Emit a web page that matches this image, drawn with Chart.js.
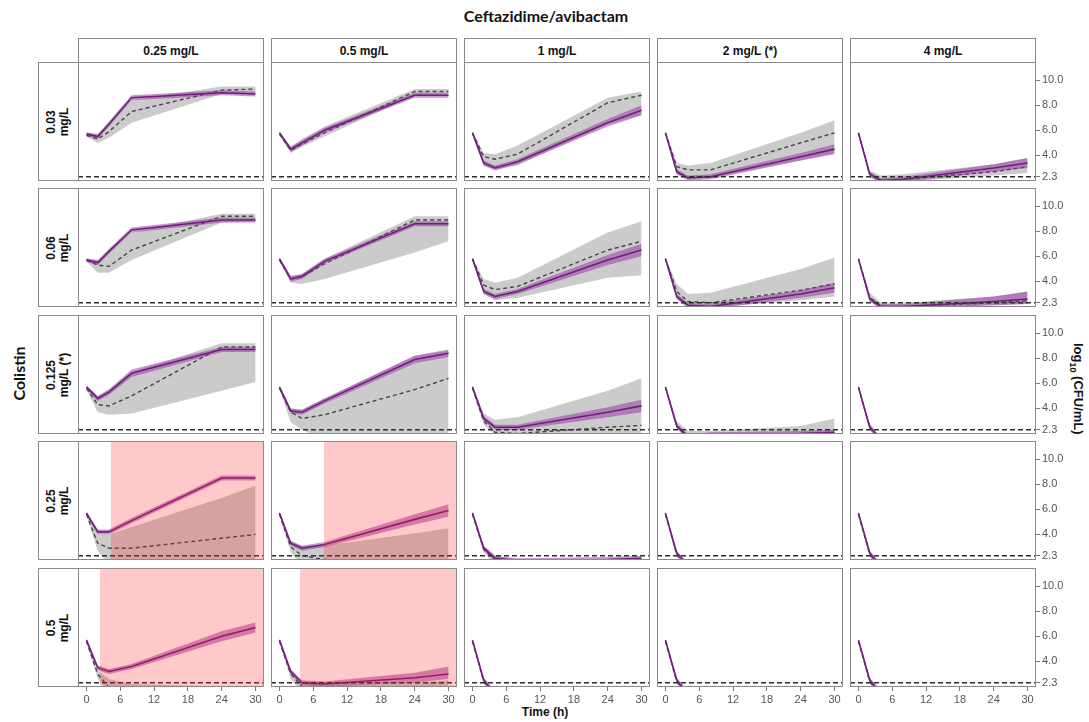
<!DOCTYPE html>
<html>
<head>
<meta charset="utf-8">
<script src="https://cdn.jsdelivr.net/npm/chart.js@4.4.0/dist/chart.umd.min.js"></script>
<style>
  body { margin: 0; background: #fff; width: 1089px; height: 722px; position: relative; overflow: hidden; font-family: "Liberation Sans", Arial, sans-serif; }
  canvas { position: absolute; }
  .strip { position: absolute; box-sizing: border-box; border: 1px solid #8a8a8a; background: #fff; display: flex; align-items: center; justify-content: center; font-weight: bold; font-size: 12px; color: #111; }
  .rot { transform: rotate(-90deg); text-align: center; line-height: 13px; white-space: nowrap; }
  .lbl { position: absolute; font-weight: bold; white-space: nowrap; color: #111; }
</style>
</head>
<body>
<div class="lbl" id="title" style="left:396px;top:6px;width:300px;text-align:center;font-family:Lato,sans-serif;font-size:16px;">Ceftazidime/avibactam</div>
<div class="lbl" style="left:-32px;top:364px;width:100px;text-align:center;font-family:Lato,sans-serif;font-size:16px;transform:rotate(-90deg);">Colistin</div>
<div class="lbl" style="left:1007px;top:380px;width:140px;text-align:center;font-size:13px;transform:rotate(90deg);">log<sub style="font-size:9px">10</sub> (CFU/mL)</div>
<div class="lbl" style="left:495px;top:705px;width:100px;text-align:center;font-size:12px;">Time (h)</div>
<script>
// sampling times (h)
const times = [0, 2, 4, 8, 24, 30];
const cazLabels = ['0.25 mg/L', '0.5 mg/L', '1 mg/L', '2 mg/L (*)', '4 mg/L'];
const colistinLabels = [['0.03', 'mg/L'], ['0.06', 'mg/L'], ['0.125', 'mg/L (*)'], ['0.25', 'mg/L'], ['0.5', 'mg/L']];
const xTicks = [0, 6, 12, 18, 24, 30];
const yTicks = [2.3, 4, 6, 8, 10];
const loq = 2.3;

// model prediction (purple): median, lower, upper  [colistin row][caz col][time]
const predMedian = [
  [[5.7,5.5,6.5,8.6,9.0,8.9],[5.8,4.5,5.0,6.0,8.8,8.8],[5.8,3.4,3.0,3.5,6.6,7.6],[5.8,2.7,2.2,2.3,3.9,4.5],[5.8,2.5,2.0,2.1,3.0,3.4]],
  [[5.7,5.5,6.4,8.1,8.9,8.9],[5.8,4.2,4.4,5.6,8.6,8.6],[5.8,3.2,2.8,3.2,5.7,6.5],[5.8,2.8,2.1,2.0,3.0,3.5],[5.8,2.6,2.0,2.0,2.4,2.6]],
  [[5.7,4.8,5.3,6.8,8.7,8.7],[5.7,3.8,3.7,4.6,7.9,8.4],[5.7,3.2,2.5,2.5,3.7,4.2],[5.7,2.6,1.7,1.9,2.0,2.1],[5.7,2.5,1.5,1.5,1.5,1.5]],
  [[5.7,4.2,4.2,5.1,8.5,8.5],[5.7,3.3,2.9,3.2,5.2,5.9],[5.7,2.9,2.1,1.9,2.0,2.1],[5.7,2.5,1.5,1.5,1.5,1.5],[5.7,2.5,1.4,1.4,1.4,1.4]],
  [[5.7,3.5,3.2,3.6,6.0,6.7],[5.7,3.2,2.3,2.2,2.7,3.0],[5.7,2.5,1.4,1.4,1.4,1.4],[5.7,2.5,1.4,1.4,1.4,1.4],[5.7,2.5,1.4,1.4,1.4,1.4]]
];
const predLow = [
  [[5.55,5.3,6.3,8.4,8.8,8.7],[5.65,4.3,4.8,5.8,8.6,8.6],[5.65,3.2,2.8,3.3,6.3,7.2],[5.65,2.5,2.0,2.1,3.6,4.1],[5.65,2.3,1.8,1.9,2.7,3.0]],
  [[5.55,5.3,6.2,7.9,8.7,8.7],[5.65,4.0,4.2,5.4,8.4,8.4],[5.65,3.0,2.6,3.0,5.3,6.0],[5.65,2.6,1.9,1.8,2.7,3.1],[5.65,2.4,1.8,1.8,2.1,2.2]],
  [[5.55,4.6,5.1,6.5,8.5,8.5],[5.55,3.6,3.5,4.4,7.6,8.1],[5.55,3.0,2.3,2.3,3.3,3.7],[5.55,2.4,1.5,1.7,1.8,1.9],[5.55,2.3,1.3,1.3,1.3,1.3]],
  [[5.55,4.0,4.0,4.9,8.3,8.3],[5.55,3.1,2.7,3.0,4.8,5.4],[5.55,2.7,1.9,1.7,1.8,1.9],[5.55,2.3,1.3,1.3,1.3,1.3],[5.55,2.3,1.2,1.2,1.2,1.2]],
  [[5.55,3.3,3.0,3.4,5.6,6.3],[5.55,3.0,2.1,2.0,2.3,2.6],[5.55,2.3,1.2,1.2,1.2,1.2],[5.55,2.3,1.2,1.2,1.2,1.2],[5.55,2.3,1.2,1.2,1.2,1.2]]
];
const predHigh = [
  [[5.85,5.7,6.7,8.8,9.2,9.1],[5.95,4.7,5.2,6.2,9.0,9.0],[5.95,3.6,3.2,3.7,6.9,8.0],[5.95,2.9,2.4,2.5,4.2,4.9],[5.95,2.7,2.2,2.3,3.3,3.8]],
  [[5.85,5.7,6.6,8.3,9.1,9.1],[5.95,4.4,4.6,5.8,8.8,8.8],[5.95,3.4,3.0,3.4,6.1,7.0],[5.95,3.0,2.3,2.2,3.3,3.9],[5.95,2.8,2.2,2.2,2.8,3.2]],
  [[5.85,5.0,5.5,7.1,8.9,8.9],[5.85,4.0,3.9,4.8,8.2,8.7],[5.85,3.4,2.7,2.7,4.1,4.7],[5.85,2.8,1.9,2.1,2.2,2.3],[5.85,2.7,1.7,1.7,1.7,1.7]],
  [[5.85,4.4,4.4,5.3,8.7,8.7],[5.85,3.5,3.1,3.4,5.6,6.4],[5.85,3.1,2.3,2.1,2.2,2.3],[5.85,2.7,1.7,1.7,1.7,1.7],[5.85,2.7,1.6,1.6,1.6,1.6]],
  [[5.85,3.7,3.4,3.8,6.4,7.1],[5.85,3.4,2.5,2.4,3.1,3.6],[5.85,2.7,1.6,1.6,1.6,1.6],[5.85,2.7,1.6,1.6,1.6,1.6],[5.85,2.7,1.6,1.6,1.6,1.6]]
];

// observed (grey): median (dashed), lower, upper
const obsMedian = [
  [[5.6,5.3,5.9,7.5,9.2,9.3],[5.7,4.4,4.9,5.8,9.1,9.1],[5.8,3.9,3.7,4.1,8.2,8.8],[5.8,3.1,2.85,2.85,5.0,5.8],[5.8,2.5,2.0,2.1,2.7,3.1]],
  [[5.7,5.3,5.2,6.5,9.2,9.2],[5.7,4.2,4.4,5.4,8.9,8.9],[5.8,3.7,3.35,3.6,6.5,7.2],[5.8,3.2,2.4,2.3,3.3,3.8],[5.8,2.7,2.0,2.0,2.3,2.45]],
  [[5.6,4.3,4.2,5.0,8.9,8.9],[5.6,3.7,3.2,3.5,5.5,6.4],[5.6,3.0,2.1,2.0,2.5,2.65],[5.7,2.6,1.8,1.9,2.0,2.0],[5.7,2.5,1.5,1.5,1.5,1.5]],
  [[5.6,3.3,2.9,2.9,3.7,4.0],[5.6,3.0,2.3,2.0,1.8,1.8],[5.6,2.8,2.0,1.8,1.8,1.8],[5.6,2.4,1.5,1.5,1.5,1.5],[5.6,2.4,1.5,1.5,1.5,1.5]],
  [[5.6,3.0,1.9,1.8,1.8,1.8],[5.6,3.0,2.0,1.8,1.8,1.8],[5.6,2.4,1.4,1.4,1.4,1.4],[5.6,2.4,1.4,1.4,1.4,1.4],[5.6,2.4,1.4,1.4,1.4,1.4]]
];
const obsLow = [
  [[5.5,5.0,5.4,6.6,8.9,9.0],[5.6,4.2,4.7,5.5,8.8,8.9],[5.6,3.2,2.9,3.2,6.5,7.2],[5.6,2.5,2.2,2.2,3.6,4.2],[5.6,2.2,1.9,1.9,2.4,2.6]],
  [[5.6,4.7,4.7,5.7,8.7,8.8],[5.6,3.9,3.8,4.2,6.3,7.2],[5.6,3.0,2.5,2.7,4.3,4.5],[5.6,2.6,1.9,1.9,2.5,2.8],[5.6,2.4,1.8,1.8,2.1,2.2]],
  [[5.5,3.7,3.5,3.6,5.4,6.1],[5.5,2.9,2.3,1.5,1.5,1.5],[5.5,2.7,1.9,1.8,1.9,2.0],[5.5,2.4,1.6,1.7,1.7,1.7],[5.5,2.3,1.3,1.3,1.3,1.3]],
  [[5.5,2.7,1.5,1.5,1.5,1.5],[5.5,2.6,1.5,1.5,1.5,1.5],[5.5,2.6,1.5,1.5,1.5,1.5],[5.5,2.2,1.3,1.3,1.3,1.3],[5.5,2.2,1.3,1.3,1.3,1.3]],
  [[5.5,2.6,1.5,1.5,1.5,1.5],[5.5,2.6,1.5,1.5,1.5,1.5],[5.5,2.2,1.2,1.2,1.2,1.2],[5.5,2.2,1.2,1.2,1.2,1.2],[5.5,2.2,1.2,1.2,1.2,1.2]]
];
const obsHigh = [
  [[5.8,5.6,6.6,8.4,9.5,9.5],[5.9,4.7,5.3,6.3,9.3,9.3],[5.9,4.2,4.1,4.8,8.6,9.1],[5.9,3.4,3.2,3.4,5.8,6.8],[5.9,2.8,2.4,2.5,3.3,3.8]],
  [[5.8,5.6,6.3,7.9,9.4,9.4],[5.9,4.5,4.6,5.8,9.2,9.2],[5.9,4.2,3.9,4.3,7.9,8.8],[5.9,3.8,3.0,3.1,5.0,5.9],[5.9,3.1,2.3,2.3,2.8,3.2]],
  [[5.8,5.0,5.5,6.9,9.2,9.2],[5.8,4.0,3.9,4.8,8.2,8.6],[5.8,3.6,3.1,3.3,5.4,6.4],[5.8,3.0,2.2,2.2,2.6,3.2],[5.8,2.8,1.7,1.7,1.7,1.7]],
  [[5.8,4.0,4.0,4.6,6.9,7.9],[5.8,3.4,3.1,3.1,4.1,4.5],[5.8,3.1,2.3,2.0,2.0,2.1],[5.8,2.7,1.7,1.7,1.7,1.7],[5.8,2.7,1.7,1.7,1.7,1.7]],
  [[5.8,3.3,2.6,2.2,2.0,2.0],[5.8,3.3,2.3,2.1,2.3,2.5],[5.8,2.7,1.7,1.7,1.7,1.7],[5.8,2.7,1.7,1.7,1.7,1.7],[5.8,2.7,1.7,1.7,1.7,1.7]]
];

// time (h) from which the red shaded region starts; null = none
const redStart = [
  [null, null, null, null, null],
  [null, null, null, null, null],
  [null, null, null, null, null],
  [4.3, 7.9, null, null, null],
  [2.4, 3.6, null, null, null]
];

// layout
const colLeft = [78, 271, 464, 657, 850];
const rowTop = [62, 188, 315, 441, 568];
const panelW = 186, panelH = 119;
const xMin = -1.5, xMax = 31.5, yMin = 1.96, yMax = 11.45;

Chart.defaults.font.family = '"Liberation Sans", Arial, sans-serif';

const panelBorder = {
  id: 'panelBorder',
  afterDraw(chart) {
    const a = chart.chartArea;
    const ctx = chart.ctx;
    ctx.save();
    ctx.strokeStyle = '#8a8a8a';
    ctx.lineWidth = 1;
    ctx.strokeRect(a.left + 0.5, a.top + 0.5, a.right - a.left - 1, a.bottom - a.top - 1);
    ctx.restore();
  }
};

const pts = arr => times.map((t, i) => ({ x: t, y: arr[i] }));
const none = 'rgba(0,0,0,0)';

// strips
cazLabels.forEach((txt, c) => {
  const d = document.createElement('div');
  d.className = 'strip';
  d.style.cssText = `left:${colLeft[c]}px;top:38px;width:${panelW}px;height:25px;`;
  d.textContent = txt;
  document.body.appendChild(d);
});
colistinLabels.forEach((lines, r) => {
  const d = document.createElement('div');
  d.className = 'strip';
  d.style.cssText = `left:38px;top:${rowTop[r]}px;width:41px;height:${panelH}px;`;
  d.innerHTML = `<div class="rot">${lines[0]}<br>${lines[1]}</div>`;
  document.body.appendChild(d);
});

for (let r = 0; r < 5; r++) {
  for (let c = 0; c < 5; c++) {
    const showY = c === 4, showX = r === 4;
    const canvas = document.createElement('canvas');
    canvas.width = panelW + (showY ? 50 : 0);
    canvas.height = panelH + (showX ? 22 : 0);
    canvas.style.left = colLeft[c] + 'px';
    canvas.style.top = rowTop[r] + 'px';
    document.body.appendChild(canvas);

    const rs = redStart[r][c];
    new Chart(canvas, {
      type: 'line',
      data: {
        datasets: [
          { data: rs === null ? [] : [{ x: rs, y: yMax }, { x: xMax, y: yMax }], fill: 'start',
            backgroundColor: 'rgba(255,30,30,0.24)', borderColor: none, borderWidth: 0 },
          { data: [{ x: xMin, y: loq }, { x: xMax, y: loq }], borderColor: '#2e2e2e', borderDash: [5, 3], borderWidth: 1.5 },
          { data: pts(predMedian[r][c]), borderColor: '#6e2079', borderWidth: 1.6 },
          { data: pts(predHigh[r][c]), fill: '+1', backgroundColor: 'rgba(150,45,165,0.5)', borderColor: none, borderWidth: 0 },
          { data: pts(predLow[r][c]), borderColor: none, borderWidth: 0 },
          { data: pts(obsMedian[r][c]), borderColor: '#454545', borderDash: [4, 3], borderWidth: 1.4 },
          { data: pts(obsHigh[r][c]), fill: '+1', backgroundColor: '#cbcbcb', borderColor: none, borderWidth: 0 },
          { data: pts(obsLow[r][c]), borderColor: none, borderWidth: 0 }
        ]
      },
      options: {
        responsive: false,
        animation: false,
        devicePixelRatio: 1,
        layout: { padding: 0 },
        elements: { point: { radius: 0 }, line: { tension: 0 } },
        plugins: { legend: { display: false }, tooltip: { enabled: false } },
        scales: {
          x: {
            type: 'linear', min: xMin, max: xMax, display: showX,
            afterBuildTicks: s => { s.ticks = xTicks.map(v => ({ value: v })); },
            afterFit: s => { if (showX) { s.height = 22; s.paddingLeft = 0; s.paddingRight = 0; } },
            grid: { drawOnChartArea: false, tickLength: 4, color: '#777' },
            border: { display: false },
            ticks: { color: '#555', font: { size: 11 }, padding: 2, maxRotation: 0, autoSkip: false }
          },
          y: {
            type: 'linear', position: 'right', min: yMin, max: yMax, display: showY,
            afterBuildTicks: s => { s.ticks = yTicks.map(v => ({ value: v })); },
            afterFit: s => { if (showY) { s.width = 50; s.paddingTop = 0; s.paddingBottom = 0; } },
            grid: { drawOnChartArea: false, tickLength: 4, color: '#777' },
            border: { display: false },
            ticks: { color: '#555', font: { size: 11 }, padding: 2, callback: v => Number(v).toFixed(1) }
          }
        }
      },
      plugins: [panelBorder]
    });
  }
}
</script>
</body>
</html>
